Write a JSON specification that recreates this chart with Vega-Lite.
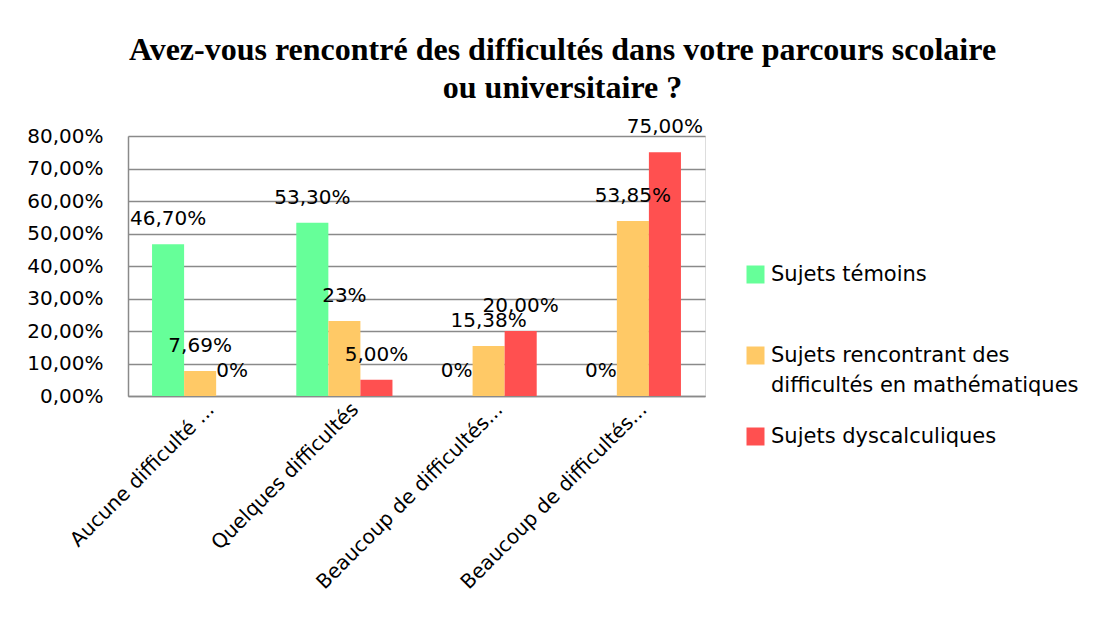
{
  "$schema": "https://vega.github.io/schema/vega-lite/v6.json",
  "width": 577,
  "height": 260,
  "autosize": {"type": "none"},
  "padding": {"left": 128, "top": 136, "right": 392, "bottom": 226},
  "background": "white",
  "config": {"style": {"guide-label": {"lineHeight": 30}}},
  "title": {
    "text": ["Avez-vous rencontré des difficultés dans votre parcours scolaire", "ou universitaire  ?"],
    "font": "Liberation Serif",
    "fontSize": 32,
    "fontWeight": "bold",
    "color": "black",
    "lineHeight": 38,
    "anchor": "middle",
    "dx": 146,
    "offset": 12
  },
  "data": {
    "values": [
      {"categorie": "Aucune difficulté particulière", "groupe": "Sujets témoins", "valeur": 0.467, "etiquette": "46,70%"},
      {"categorie": "Aucune difficulté particulière", "groupe": "Sujets rencontrant des difficultés en mathématiques", "valeur": 0.0769, "etiquette": "7,69%"},
      {"categorie": "Aucune difficulté particulière", "groupe": "Sujets dyscalculiques", "valeur": 0, "etiquette": "0%"},
      {"categorie": "Quelques difficultés", "groupe": "Sujets témoins", "valeur": 0.533, "etiquette": "53,30%"},
      {"categorie": "Quelques difficultés", "groupe": "Sujets rencontrant des difficultés en mathématiques", "valeur": 0.2308, "etiquette": "23%"},
      {"categorie": "Quelques difficultés", "groupe": "Sujets dyscalculiques", "valeur": 0.05, "etiquette": "5,00%"},
      {"categorie": "Beaucoup de difficultés dans certaines matières", "groupe": "Sujets témoins", "valeur": 0, "etiquette": "0%"},
      {"categorie": "Beaucoup de difficultés dans certaines matières", "groupe": "Sujets rencontrant des difficultés en mathématiques", "valeur": 0.1538, "etiquette": "15,38%"},
      {"categorie": "Beaucoup de difficultés dans certaines matières", "groupe": "Sujets dyscalculiques", "valeur": 0.2, "etiquette": "20,00%"},
      {"categorie": "Beaucoup de difficultés en mathématiques", "groupe": "Sujets témoins", "valeur": 0, "etiquette": "0%"},
      {"categorie": "Beaucoup de difficultés en mathématiques", "groupe": "Sujets rencontrant des difficultés en mathématiques", "valeur": 0.5385, "etiquette": "53,85%"},
      {"categorie": "Beaucoup de difficultés en mathématiques", "groupe": "Sujets dyscalculiques", "valeur": 0.75, "etiquette": "75,00%"}
    ]
  },
  "encoding": {
    "x": {
      "field": "categorie",
      "type": "nominal",
      "sort": null,
      "scale": {"paddingInner": 0.3333, "paddingOuter": 0.1667},
      "axis": {
        "title": null,
        "labelAngle": -45,
        "labelAlign": "right",
        "labelBaseline": "middle",
        "labelFont": "DejaVu Sans",
        "labelFontSize": 20,
        "labelColor": "black",
        "labelPadding": 10,
        "labelOffset": 11,
        "labelLimit": 400,
        "ticks": false,
        "domainColor": "#8a8a8a",
        "domainWidth": 1.5,
        "labelExpr": "datum.label == 'Aucune difficulté particulière' ? 'Aucune difficulté ...' : (indexof(datum.label, 'Beaucoup') == 0 ? 'Beaucoup de difficultés...' : datum.label)"
      }
    },
    "xOffset": {
      "field": "groupe",
      "sort": ["Sujets témoins", "Sujets rencontrant des difficultés en mathématiques", "Sujets dyscalculiques"],
      "scale": {"paddingInner": 0, "paddingOuter": 0}
    },
    "y": {
      "field": "valeur",
      "type": "quantitative",
      "scale": {"domain": [0, 0.8], "nice": false},
      "axis": {
        "title": null,
        "values": [0, 0.1, 0.2, 0.3, 0.4, 0.5, 0.6, 0.7, 0.8],
        "labelExpr": "replace(format(datum.value, '.2%'), '.', ',')",
        "labelFont": "DejaVu Sans",
        "labelFontSize": 20,
        "labelColor": "black",
        "labelPadding": 25,
        "ticks": false,
        "domainColor": "#8a8a8a",
        "domainWidth": 1.5,
        "gridColor": "#8a8a8a",
        "gridWidth": 1.5,
        "gridOpacity": 1
      }
    }
  },
  "layer": [
    {
      "mark": {"type": "bar"},
      "encoding": {
        "color": {
          "field": "groupe",
          "type": "nominal",
          "sort": ["Sujets témoins", "Sujets rencontrant des difficultés en mathématiques", "Sujets dyscalculiques"],
          "scale": {
            "domain": ["Sujets témoins", "Sujets rencontrant des difficultés en mathématiques", "Sujets dyscalculiques"],
            "range": ["#66FF99", "#FFC966", "#FF5050"]
          },
          "legend": {
            "title": null,
            "orient": "none",
            "legendX": 617,
            "legendY": 128,
            "symbolType": "square",
            "symbolSize": 324,
            "symbolStrokeWidth": 0,
            "symbolOpacity": 1,
            "labelFont": "DejaVu Sans",
            "labelFontSize": 21,
            "labelColor": "black",
            "labelLimit": 400,
            "labelOffset": 5,
            "rowPadding": 29,
            "labelExpr": "datum.label == 'Sujets rencontrant des difficultés en mathématiques' ? ['Sujets rencontrant des', 'difficultés en mathématiques'] : [datum.label, ' ']"
          }
        }
      }
    },
    {
      "mark": {"type": "text", "dy": -25, "font": "DejaVu Sans", "fontSize": 20, "baseline": "middle", "color": "black"},
      "encoding": {"text": {"field": "etiquette"}}
    }
  ]
}
